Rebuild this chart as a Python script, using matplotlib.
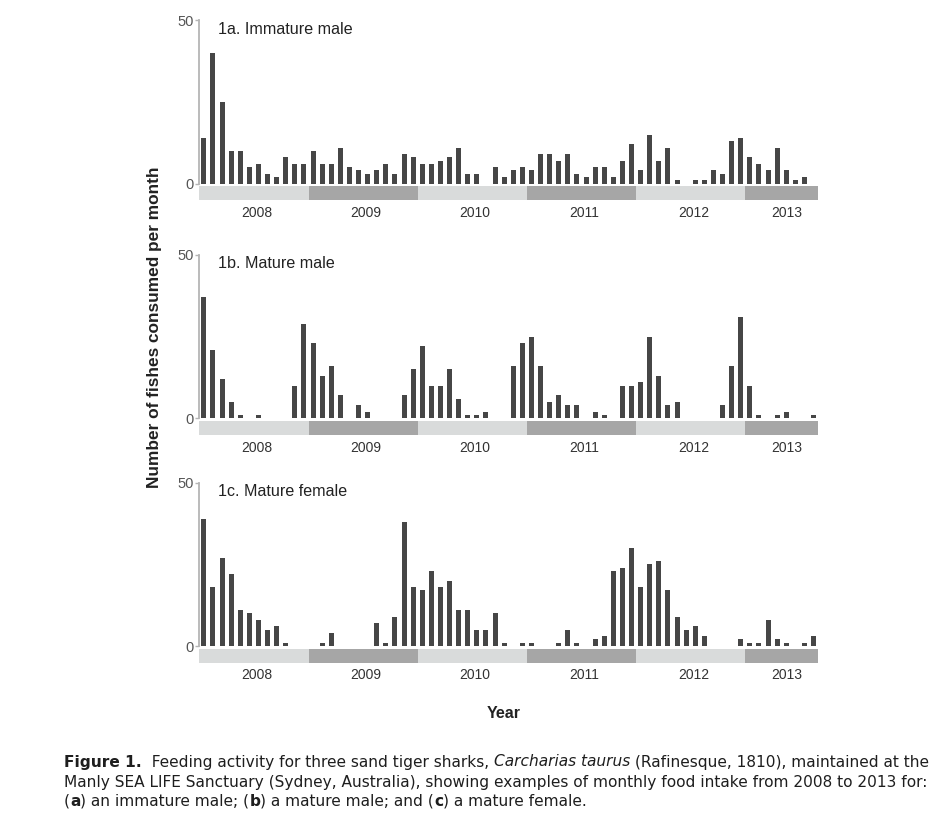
import matplotlib
matplotlib.use('Agg')
import matplotlib.pyplot as plt
from matplotlib.patches import Rectangle

plt.rcParams['font.family'] = ['Liberation Sans', 'DejaVu Sans']

# monthly intake, Jan 2008 .. Aug 2013 (68 months)
immature_male = [14, 40, 25, 10, 10, 5, 6, 3, 2, 8, 6, 6,
                 10, 6, 6, 11, 5, 4, 3, 4, 6, 3, 9, 8,
                 6, 6, 7, 8, 11, 3, 3, 0, 5, 2, 4, 5,
                 4, 9, 9, 7, 9, 3, 2, 5, 5, 2, 7, 12,
                 4, 15, 7, 11, 1, 0, 1, 1, 4, 3, 13, 14,
                 8, 6, 4, 11, 4, 1, 2, 0]
mature_male = [37, 21, 12, 5, 1, 0, 1, 0, 0, 0, 10, 29,
               23, 13, 16, 7, 0, 4, 2, 0, 0, 0, 7, 15,
               22, 10, 10, 15, 6, 1, 1, 2, 0, 0, 16, 23,
               25, 16, 5, 7, 4, 4, 0, 2, 1, 0, 10, 10,
               11, 25, 13, 4, 5, 0, 0, 0, 0, 4, 16, 31,
               10, 1, 0, 1, 2, 0, 0, 1]
mature_female = [39, 18, 27, 22, 11, 10, 8, 5, 6, 1, 0, 0,
                 0, 1, 4, 0, 0, 0, 0, 7, 1, 9, 38, 18,
                 17, 23, 18, 20, 11, 11, 5, 5, 10, 1, 0, 1,
                 1, 0, 0, 1, 5, 1, 0, 2, 3, 23, 24, 30,
                 18, 25, 26, 17, 9, 5, 6, 3, 0, 0, 0, 2,
                 1, 1, 8, 2, 1, 0, 1, 3]
years = ['2008', '2009', '2010', '2011', '2012', '2013']
titles = ['1a. Immature male', '1b. Mature male', '1c. Mature female']
series = [immature_male, mature_male, mature_female]

W, H = 940, 814
fig = plt.figure(figsize=(W / 100, H / 100), dpi=100)

PX = 163.3 / 50          # pixels per fish
LEFT, PITCH = 199.3, 9.1
baselines = [183.5, 418.3, 646.0]
YMIN = -11

for k, (vals, base) in enumerate(zip(series, baselines)):
    n = len(vals)
    top = base - 50 * PX
    bottom = base - YMIN * PX
    ax = fig.add_axes([LEFT / W, 1 - bottom / H, n * PITCH / W, (bottom - top) / H])
    ax.set_xlim(0, n)
    ax.set_ylim(YMIN, 50)
    x = [i + 0.5 for i in range(n)]
    ax.bar(x, vals, width=0.56, color='#464646', linewidth=0, zorder=3)

    # year bands
    for j, yr in enumerate(years):
        start = 12 * j
        span = min(12, n - start)
        col = '#d9dbdb' if j % 2 == 0 else '#a6a6a6'
        ax.add_patch(Rectangle((start, -5.2), span, 4.4, facecolor=col,
                               edgecolor='none', clip_on=False))
        ax.text(start + span / 2 + (0.3 if span == 12 else 0.6), -9.0, yr,
                ha='center', va='center', fontsize=10, color='#333333')

    for s in ['top', 'right', 'bottom']:
        ax.spines[s].set_visible(False)
    ax.spines['left'].set_bounds(0, 50)
    ax.spines['left'].set_color('#b5b5b5')
    ax.spines['left'].set_linewidth(1.3)
    ax.set_xticks([])
    ax.set_yticks([0, 50])
    ax.tick_params(axis='y', length=3, width=1, color='#b5b5b5',
                   labelsize=10.5, labelcolor='#555555', pad=1)
    fig.text(218 / W, 1 - (top + 9) / H, titles[k], fontsize=11.6,
             color='#222222', ha='left', va='center')

fig.text(155 / W, 1 - 327 / H, 'Number of fishes consumed per month',
         rotation=90, ha='center', va='center', fontsize=12.4,
         fontweight='bold', color='#222222')
fig.text(504 / W, 1 - 714 / H, 'Year', ha='center', va='center',
         fontsize=11.5, fontweight='bold', color='#222222')

# caption, drawn as runs of differently styled text
renderer = fig.canvas.get_renderer()


def caption_line(x, y, parts, size=11.05):
    for s, weight, style in parts:
        t = fig.text(x / W, 1 - y / H, s, fontsize=size, fontweight=weight,
                     fontstyle=style, ha='left', va='center', color='#1e1e1e',
                     family='DejaVu Sans')
        x += t.get_window_extent(renderer=renderer).width


caption_line(64, 762, [('Figure 1.', 'bold', 'normal'),
                       ('  Feeding activity for three sand tiger sharks, ', 'normal', 'normal'),
                       ('Carcharias taurus', 'normal', 'italic'),
                       (' (Rafinesque, 1810), maintained at the', 'normal', 'normal')])
caption_line(64, 782, [('Manly SEA LIFE Sanctuary (Sydney, Australia), showing examples '
                        'of monthly food intake from 2008 to 2013 for:', 'normal', 'normal')])
caption_line(64, 801, [('(', 'normal', 'normal'), ('a', 'bold', 'normal'),
                       (') an immature male; (', 'normal', 'normal'), ('b', 'bold', 'normal'),
                       (') a mature male; and (', 'normal', 'normal'), ('c', 'bold', 'normal'),
                       (') a mature female.', 'normal', 'normal')])

fig.savefig('out.png', dpi=100)
